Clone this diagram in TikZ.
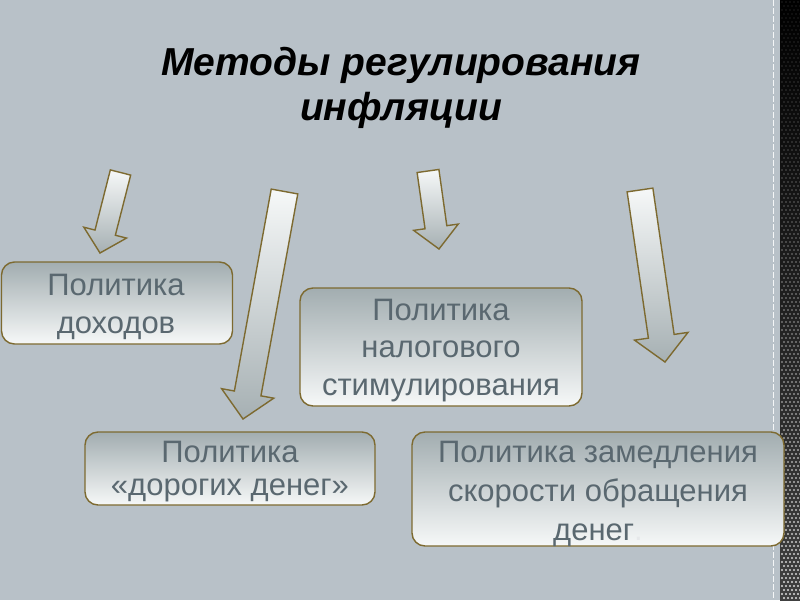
\documentclass[tikz,border=0pt]{standalone}
\usepackage{fontspec}
\setmainfont{Liberation Sans}
\usetikzlibrary{calc}
\definecolor{bg}{HTML}{B8C1C8}
\definecolor{edge}{HTML}{7D6A30}
\definecolor{txt}{HTML}{5A6870}
\definecolor{boxtop}{HTML}{A2ADB0}
\definecolor{boxbot}{HTML}{F6F8F8}
\definecolor{arrtop}{HTML}{F6F8F8}
\definecolor{arrbot}{HTML}{A6B0B3}
\tikzset{
  policy/.style={draw=edge, line width=1.4pt, rounded corners=13pt,
    top color=boxtop, bottom color=boxbot, inner sep=0pt},
  policytext/.style={text=txt, align=center, inner sep=0pt, anchor=base},
  arrowshape/.style={draw=edge, line width=1.4pt, line join=miter,
    top color=arrtop, bottom color=arrbot},
  titletext/.style={font=\fontsize{39}{45}\selectfont\bfseries\itshape, text=black, align=center, inner sep=0pt}
}
% tail, tip, half shaft width, head length, half head width
\newcommand\blockarr[5]{%
  \coordinate (#1-h) at ($(#2)!#4!(#1)$);
  \path[arrowshape] ($(#1)!#3!90:(#2)$) -- ($(#1-h)!#3!90:(#2)$) -- ($(#1-h)!#5!90:(#2)$)
    -- (#2) -- ($(#1-h)!#5!-90:(#2)$) -- ($(#1-h)!#3!-90:(#2)$) -- ($(#1)!#3!-90:(#2)$) -- cycle;
}
\begin{document}
\begin{tikzpicture}[x=1pt,y=-1pt]
\useasboundingbox (0,0) rectangle (800,600);
\fill[bg] (0,0) rectangle (800,600);
% right decorative strip
\shade[top color=black, bottom color=black!75] (780,0) rectangle (800,600);
\foreach \j in {0,...,149}{
  \pgfmathsetmacro\op{0.08+0.75*(\j/149)^1.5}
  \pgfmathsetmacro\yy{\j*4+2}
  \pgfmathsetmacro\off{mod(\j,2)*2}
  \foreach \i in {0,...,4}{
    \fill[white, opacity=\op] ({782+\i*4+\off},\yy) circle (1.1pt);
  }
}
\draw[white!85!bg, line width=0.8pt, dash pattern=on 6pt off 2pt] (773,0) -- (773,600);

% title
\node[titletext] (title) at (401,88) {Методы регулирования\\инфляции};

% arrows
\coordinate (a1t) at (120.5,172.5); \coordinate (a1h) at (100,253);
\coordinate (a2t) at (284.5,191.5); \coordinate (a2h) at (243,419);
\coordinate (a3t) at (428,171);     \coordinate (a3h) at (439,249);
\coordinate (a4t) at (640,190);     \coordinate (a4h) at (665,362);
\blockarr{a1t}{a1h}{10.5pt}{21pt}{22pt}
\blockarr{a2t}{a2h}{13.5pt}{26pt}{26.5pt}
\blockarr{a3t}{a3h}{11pt}{22pt}{22.5pt}
\blockarr{a4t}{a4h}{13pt}{26pt}{27pt}

% boxes
\node[policy, minimum width=231pt, minimum height=82pt] (p1) at (117,303) {};
\node[policy, minimum width=282pt, minimum height=118pt] (p2) at (441,347) {};
\node[policy, minimum width=290pt, minimum height=73pt] (p3) at (230,468.5) {};
\node[policy, minimum width=372pt, minimum height=114pt] (p4) at (598,489) {};
% texts (anchor=base is the baseline of the last line)
\node[policytext, font=\fontsize{31}{38}\selectfont] (p1t) at (116,333) {Политика\\доходов};
\node[policytext, font=\fontsize{31}{37.5}\selectfont] (p2t) at (441,395) {Политика\\налогового\\стимулирования};
\node[policytext, font=\fontsize{31}{33}\selectfont] (p3t) at (230,495) {Политика\\«дорогих денег»};
\node[policytext, font=\fontsize{31}{39}\selectfont] (p4t) at (598,540) {Политика замедления\\скорости обращения\\денег\textcolor{white!85!txt}{.}};
\end{tikzpicture}
\end{document}
